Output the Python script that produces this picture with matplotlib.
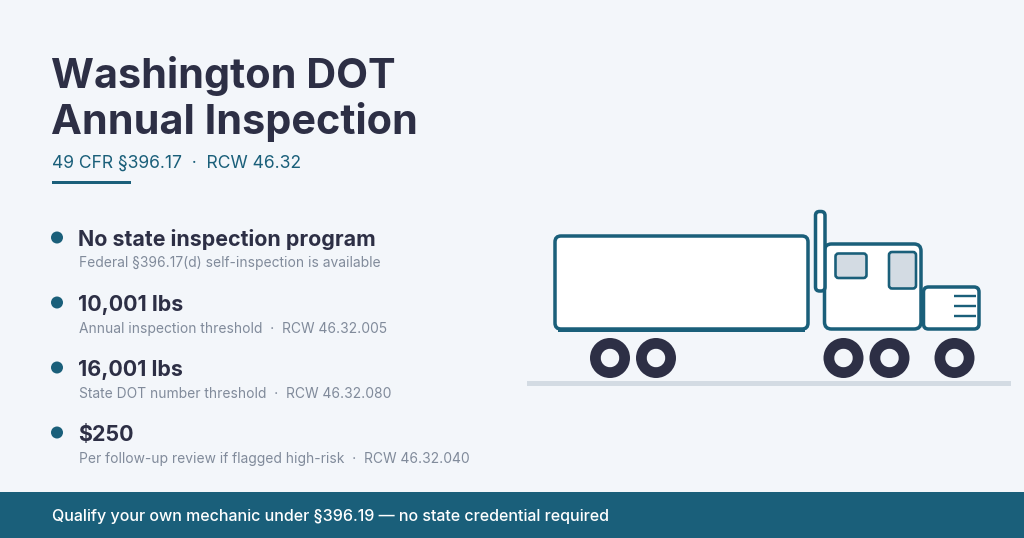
import matplotlib
matplotlib.use("Agg")
import matplotlib.pyplot as plt
from matplotlib.patches import FancyBboxPatch, Circle, Rectangle, Wedge

BG = "#f3f6fa"; TEAL = "#1a5f7a"; DARK = "#2d2f45"; GREY = "#818b9b"; LIGHT = "#d3dbe3"

title_lines = ["Washington DOT", "Annual Inspection"]
subtitle = "49 CFR §396.17  ·  RCW 46.32"
headings = ["No state inspection program", "10,001 lbs", "16,001 lbs", "$250"]
details = ["Federal §396.17(d) self-inspection is available",
           "Annual inspection threshold  ·  RCW 46.32.005",
           "State DOT number threshold  ·  RCW 46.32.080",
           "Per follow-up review if flagged high-risk  ·  RCW 46.32.040"]
footer = "Qualify your own mechanic under §396.19 — no state credential required"
wheel_x = [610, 656, 843.5, 889.5, 954.5]
vent_y = [296, 306, 316]

fig = plt.figure(figsize=(10.24, 5.38), dpi=100, facecolor=BG)
ax = fig.add_axes([0, 0, 1, 1])
ax.set_xlim(0, 1024); ax.set_ylim(538, 0); ax.axis("off")
FONT = "Inter"

def box(x0, y0, x1, y1, r, fc, ec, lw, z=2):
    ax.add_patch(FancyBboxPatch((x0 + r, y0 + r), x1 - x0 - 2 * r, y1 - y0 - 2 * r,
                                boxstyle=f"round,pad={r},rounding_size={r}",
                                fc=fc, ec=ec, lw=lw * 0.72, zorder=z))

# Title block
for line, y in zip(title_lines, [88, 134]):
    ax.text(51, y, line, fontsize=29.8, fontweight="bold", color=DARK, family=FONT, va="baseline")
ax.text(52, 168, subtitle, fontsize=12.6, color=TEAL, family=FONT, va="baseline")
ax.add_patch(Rectangle((52, 180.5), 79, 3, fc=TEAL, ec="none"))

# List
for i, (h, d) in enumerate(zip(headings, details)):
    y = 237.5 + 65 * i
    ax.add_patch(Circle((57, y), 6, fc=TEAL, ec="none"))
    ax.text(78.5, y + 8.5, h, fontsize=15.4, fontweight="bold", color=DARK, family=FONT, va="baseline")
    ax.text(79, y + 30, d, fontsize=9.95, color=GREY, family=FONT, va="baseline")

# Footer
ax.add_patch(Rectangle((0, 492), 1024, 46, fc=TEAL, ec="none"))
ax.text(52, 521, footer, fontsize=11.56, color="white", family=FONT, fontweight="medium", va="baseline")

# Truck
ax.add_patch(Rectangle((527, 380.5), 484, 5, fc=LIGHT, ec="none"))
box(555, 236, 808, 329, 6, "white", TEAL, 3.5)
ax.add_patch(Rectangle((558, 327.5), 247, 4, fc=TEAL, ec="none", zorder=3))
box(824.5, 244, 921, 329, 7, "white", TEAL, 3.5, z=2)
box(815.5, 211.5, 825, 291, 4, "white", TEAL, 3.5, z=3)
box(835.5, 253.5, 866.5, 278, 3, LIGHT, TEAL, 2.6, z=4)
box(889, 252, 916, 288.5, 3, LIGHT, TEAL, 2.6, z=4)
box(923.5, 287, 979, 329, 5, "white", TEAL, 3.5, z=3)
for y in vent_y:
    ax.plot([954, 975.5], [y, y], color=TEAL, lw=2.4 * 0.72, solid_capstyle="butt", zorder=5)
for x in wheel_x:
    ax.add_patch(Wedge((x, 358), 20, 0, 360, width=10.8, fc=DARK, ec="none", zorder=5))

fig.savefig("out.png", dpi=100, facecolor=BG)
